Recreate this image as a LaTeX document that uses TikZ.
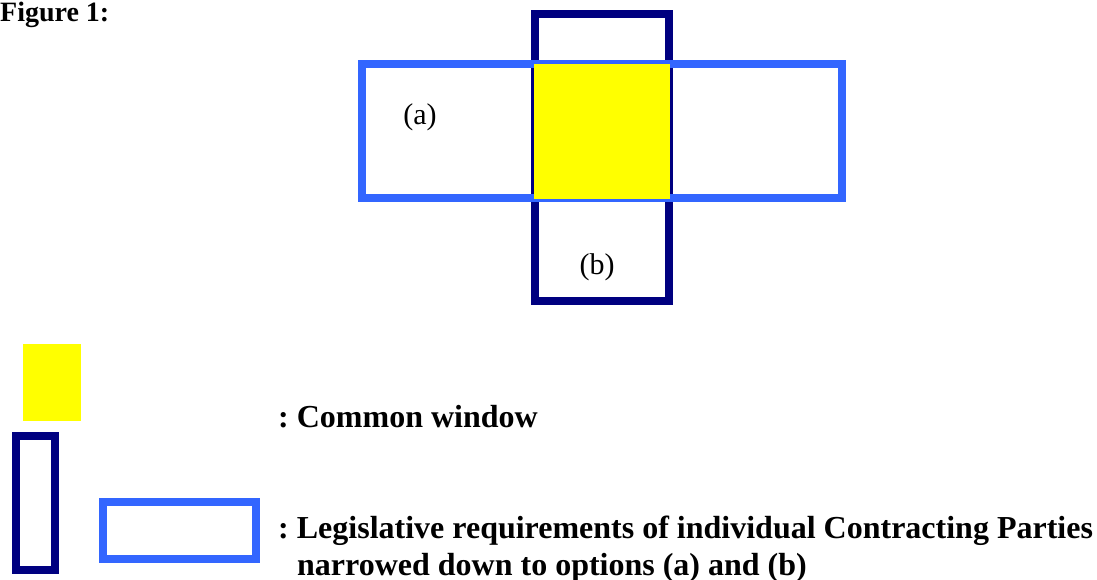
\documentclass[tikz,border=0pt]{standalone}
\usepackage{fontspec}
\setmainfont{Liberation Serif}
\usepackage{xcolor}
\usepackage{tikz}
\usetikzlibrary{positioning}
\frenchspacing

\definecolor{winblue}{HTML}{3366FF}
\definecolor{winnavy}{HTML}{000080}
\definecolor{winyellow}{HTML}{FFFF00}

\begin{document}
\begin{tikzpicture}[
    x=1pt, y=-1pt,
    optA/.style={draw=winblue, line width=8pt},
    optB/.style={draw=winnavy, line width=8pt},
    common/.style={fill=winyellow},
    label/.style={inner sep=0pt, anchor=base, font=\fontsize{30}{34}\selectfont},
    legend/.style={inner sep=0pt, anchor=base west, font=\fontsize{32}{37}\selectfont\bfseries}
]
\useasboundingbox (0,0) rectangle (1097,580);
\clip (0,0) rectangle (1097,580);

% caption
\node[inner sep=0pt, anchor=base west, font=\fontsize{28}{32}\selectfont\bfseries] (fig) at (0,22) {Figure 1:};

% the two options and their overlap
\draw[optB] (535,14) rectangle (669,301);
\draw[optA] (362,64) rectangle (842,198);
\fill[common] (534,64) rectangle (670,199);
\node[label] (a) at (420,125) {(a)};
\node[label] (b) at (597,274) {(b)};

% legend
\fill[common] (23,344) rectangle (81,421);
\draw[optB] (16,436) rectangle (55,570);
\draw[optA] (103,502) rectangle (256,559);
\node[legend] (win) at (278,427) {: Common window};
\node[legend] (req) at (278,538) {: Legislative requirements of individual Contracting Parties};
\node[legend] (req2) at (297,575) {narrowed down to options (a) and (b)};
\end{tikzpicture}
\end{document}
